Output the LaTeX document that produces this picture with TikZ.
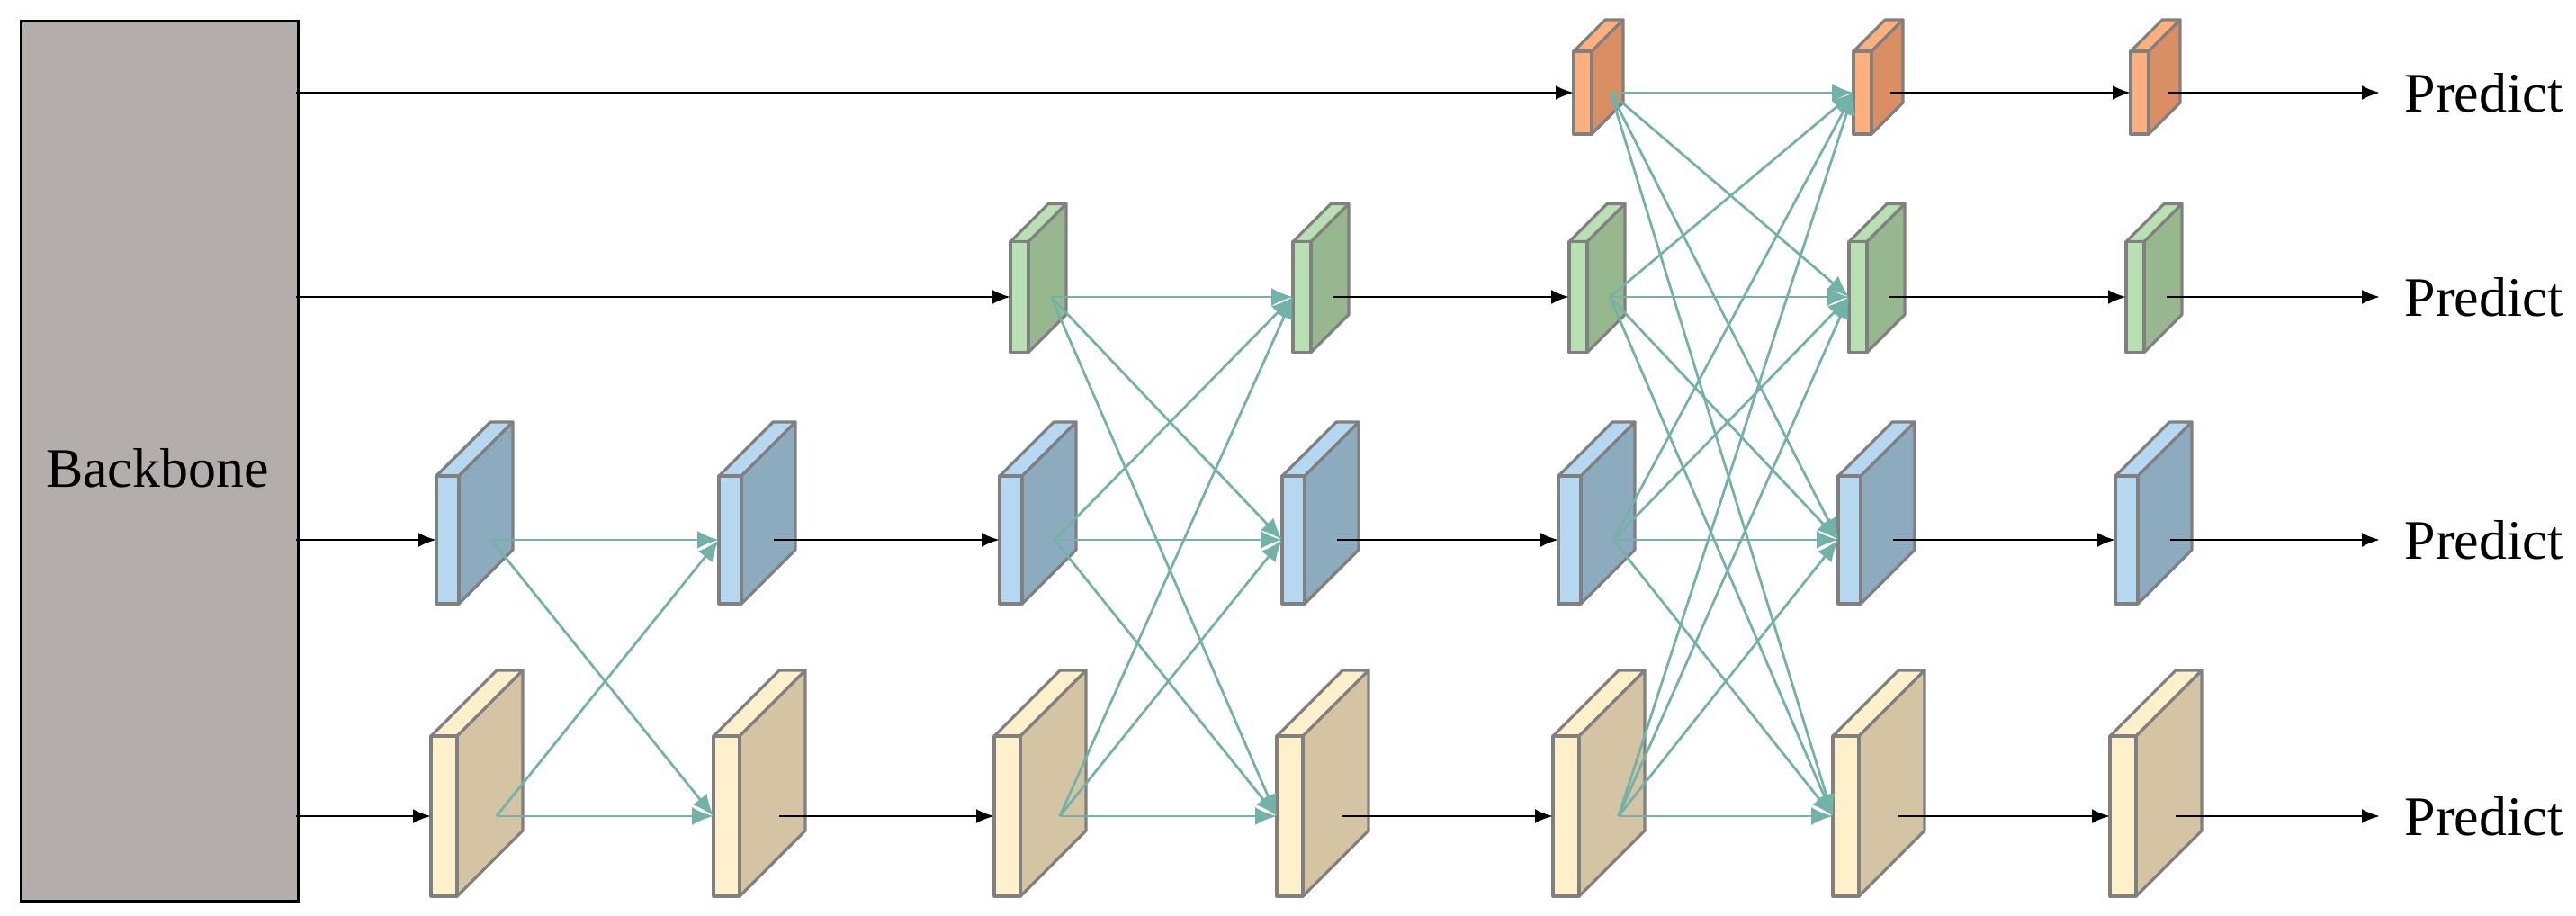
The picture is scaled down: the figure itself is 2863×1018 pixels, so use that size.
\documentclass[tikz,border=0pt]{standalone}
\usepackage{fontspec}
\setmainfont{Liberation Serif}
\usetikzlibrary{arrows.meta}
\definecolor{ofr}{HTML}{FDB07E}\definecolor{osd}{HTML}{D98E64}
\definecolor{gfr}{HTML}{B9E0B2}\definecolor{gsd}{HTML}{97B78F}
\definecolor{bfr}{HTML}{B5D8F0}\definecolor{bsd}{HTML}{8DABBF}
\definecolor{yfr}{HTML}{FFF0CC}\definecolor{ysd}{HTML}{D4C4A4}
\definecolor{edgegray}{HTML}{808080}
\definecolor{teal}{HTML}{73B2A8}
\definecolor{bbgray}{HTML}{B3AEAC}
\tikzset{
  face/.style={draw=edgegray,line width=0.8pt,line join=round},
  blk/.style={-{Latex[length=5pt,width=4pt]},line width=0.7pt,black},
  tl/.style={-{Latex[length=6pt,width=5pt]},line width=0.7pt,teal},
  lbl/.style={font=\fontsize{15.5}{18}\selectfont,inner sep=0pt}
}
% \myblock{name}{x}{yc}{w}{h}{d}{front}{side}
\newcommand{\myblock}[8]{%
  \pgfmathsetmacro{\xa}{#2}\pgfmathsetmacro{\xb}{#2+#4}%
  \pgfmathsetmacro{\yt}{#3-#5/2}\pgfmathsetmacro{\yb}{#3+#5/2}%
  \pgfmathsetmacro{\xo}{#2+#4+0.6*#6}%
  \fill[#7] (\xa,\yt) -- (\xb,\yt) -- (\xb+#6,\yt-#6) -- (\xa+#6,\yt-#6) -- cycle;
  \draw[face] (\xa,\yt) -- (\xb,\yt) -- (\xb+#6,\yt-#6) -- (\xa+#6,\yt-#6) -- cycle;
  \fill[#8] (\xb,\yt) -- (\xb+#6,\yt-#6) -- (\xb+#6,\yb-#6) -- (\xb,\yb) -- cycle;
  \draw[face] (\xb,\yt) -- (\xb+#6,\yt-#6) -- (\xb+#6,\yb-#6) -- (\xb,\yb) -- cycle;
  \fill[#7] (\xa,\yt) rectangle (\xb,\yb);
  \draw[face] (\xa,\yt) rectangle (\xb,\yb);
  \coordinate (#1-in) at (\xa,#3);
  \coordinate (#1-out) at (\xo,#3);
}
\begin{document}
\begin{tikzpicture}[x=0.25pt,y=-0.25pt]
\useasboundingbox (0,0) rectangle (2863,1018);
\node[draw=black,line width=0.8pt,fill=bbgray,minimum width=77pt,minimum height=244.5pt,anchor=north west,inner sep=0pt] (bb) at (22,22) {};
\node[lbl] (bbt) at (175,520) {Backbone};
% blocks
\foreach \c/\X in {1/502,2/816,3/1128,4/1442,5/1749,6/2060,7/2368}{
  \ifnum\c>4 \myblock{o\c}{\X}{103}{20}{92}{35}{ofr}{osd}\fi
  \ifnum\c>2 \myblock{g\c}{\X-5}{330}{20}{123}{42}{gfr}{gsd}\fi
  \myblock{b\c}{\X-17}{600}{25}{142}{60}{bfr}{bsd}
  \myblock{y\c}{\X-23}{907}{29}{178}{73}{yfr}{ysd}
}
% backbone arrows
\coordinate (bo) at (329,103);\coordinate (bg) at (329,330);
\coordinate (bbl) at (329,600);\coordinate (byl) at (329,907);
\draw[blk] (bo) -- (o5-in);
\draw[blk] (bg) -- (g3-in);
\draw[blk] (bbl) -- (b1-in);
\draw[blk] (byl) -- (y1-in);
% teal connections
\foreach \s in {b,y}{\foreach \t in {b,y}{\draw[tl] (\s1-out) -- (\t2-in);}}
\foreach \s in {g,b,y}{\foreach \t in {g,b,y}{\draw[tl] (\s3-out) -- (\t4-in);}}
\foreach \s in {o,g,b,y}{\foreach \t in {o,g,b,y}{\draw[tl] (\s5-out) -- (\t6-in);}}
% black forward
\foreach \r in {b,y}{\draw[blk] (\r2-out) -- (\r3-in);}
\foreach \r in {g,b,y}{\draw[blk] (\r4-out) -- (\r5-in);}
\foreach \r in {o,g,b,y}{\draw[blk] (\r6-out) -- (\r7-in);}
% predict
\foreach \r/\yy in {o/103,g/330,b/600,y/907}{
  \coordinate (\r-end) at (2645,\yy);
  \draw[blk] (\r7-out) -- (\r-end);
  \node[lbl,anchor=west] (\r-p) at (2672,\yy) {Predict};
}
\end{tikzpicture}
\end{document}
